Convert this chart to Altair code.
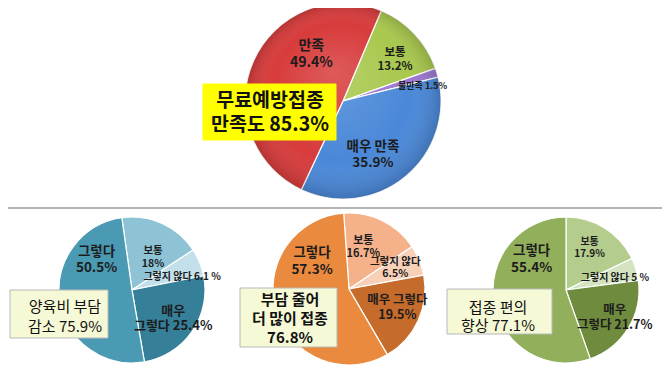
import math
import altair as alt
import pandas as pd

# ---------------- data ----------------
top_cats = ["보통", "불만족", "매우 만족", "만족"]
top_vals = [13.2, 1.5, 35.9, 49.4]
top_labels = ["보통\n13.2%", "불만족 1.5%", "매우 만족\n35.9%", "만족\n49.4%"]

bottom_cats = ["보통", "그렇지 않다", "매우 그렇다", "그렇다"]

left_vals = [18, 6.1, 25.4, 50.5]
left_labels = ["보통\n18%", "그렇지 않다 6.1 %", "매우\n그렇다 25.4%", "그렇다\n50.5%"]

mid_vals = [16.7, 6.5, 19.5, 57.3]
mid_labels = ["보통\n16.7%", "그렇지 않다\n6.5%", "매우 그렇다\n19.5%", "그렇다\n57.3%"]

right_vals = [17.9, 5, 21.7, 55.4]
right_labels = ["보통\n17.9%", "그렇지 않다 5 %", "매우\n그렇다 21.7%", "그렇다\n55.4%"]

box_texts = [
    "무료예방접종\n만족도 85.3%",
    "양육비 부담\n감소 75.9%",
    "부담 줄어\n더 많이 접종\n76.8%",
    "접종 편의\n향상 77.1%",
]

# ---------------- styles ----------------
FONT = "Noto Sans CJK KR"
W, H = 654, 357

pies = [
    dict(cats=top_cats, vals=top_vals, labels=top_labels,
         colors=["#a8c84d", "#9b77d0", "#4a88d8", "#d83b3b"],
         cx=335, cy=93, r=98, start=23, shade=True,
         lstyle=[(66, 4, 4, 11.5), (81, 2, 8, 9), (66, -12, 3, 13.5), (50, 14, -26, 14)]),
    dict(cats=bottom_cats, vals=left_vals, labels=left_labels,
         colors=["#8ec3d6", "#c3dfe9", "#367f99", "#4a9ab3"],
         cx=124, cy=282, r=73, start=-8, shade=False,
         lstyle=[(39, 5, 3, 10.5), (52, 2, 7, 10), (50, 0, 0, 13), (46, 10, -37, 13.5)]),
    dict(cats=bottom_cats, vals=mid_vals, labels=mid_labels,
         colors=["#f5b28a", "#f8d0b8", "#c56b2c", "#ea8a3e"],
         cx=341, cy=281, r=76, start=-4, shade=False,
         lstyle=[(44, -5, -2, 11), (50, 0, -2, 10.5), (51, 2, -3, 12.5), (46, 7, -41, 13.5)]),
    dict(cats=bottom_cats, vals=right_vals, labels=right_labels,
         colors=["#b4cc8c", "#d5e4c0", "#6f8b3d", "#92b05b"],
         cx=558, cy=282, r=73, start=0, shade=False,
         lstyle=[(48, -2, -1, 10), (50, 1, 2, 10), (56, 1, -2, 12.5), (45, 10, -38, 13.5)]),
]

boxes = [
    dict(x1=195, x2=328, y1=76, y2=132, fill="#ffff00", stroke="#ffff00",
         tx=262, ty=105, size=19.5, weight="bold", lh=23.5),
    dict(x1=2, x2=100, y1=282, y2=330, fill="#f6f9d6", stroke="#b8b8b8",
         tx=57, ty=309, size=15, weight="normal", lh=20),
    dict(x1=232, x2=329, y1=280, y2=339, fill="#f6f9d6", stroke="#b8b8b8",
         tx=282, ty=311, size=15, weight="bold", lh=19),
    dict(x1=439, x2=544, y1=281, y2=326, fill="#f6f9d6", stroke="#b8b8b8",
         tx=490, ty=309, size=15, weight="normal", lh=18),
]

shade_gradient = alt.RadialGradient(
    gradient="radial", x1=0.45, y1=0.35, r1=0, x2=0.5, y2=0.5, r2=0.5,
    stops=[alt.GradientStop(offset=0, color="rgba(255,255,255,0.16)"),
           alt.GradientStop(offset=0.7, color="rgba(255,255,255,0.0)"),
           alt.GradientStop(offset=1, color="rgba(0,0,0,0.16)")],
)

layers = []

# separator line
layers.append(
    alt.Chart(alt.Data(values=[{}])).mark_rule(color="#b4b4b4", strokeWidth=2).encode(
        x=alt.value(0), x2=alt.value(W), y=alt.value(200)
    )
)

for p in pies:
    df = pd.DataFrame({
        "cat": p["cats"], "value": p["vals"], "label": p["labels"],
        "order": list(range(len(p["cats"]))),
    })
    base = (
        alt.Chart(df)
        .transform_window(cum="sum(value)", sort=[alt.SortField("order")], frame=[None, 0])
        .transform_calculate(start="datum.cum - datum.value", mid="datum.cum - datum.value / 2")
    )
    a0 = math.radians(p["start"])
    sc = alt.Scale(domain=[0, 100], range=[a0, a0 + 2 * math.pi])
    arcs = base.mark_arc(outerRadius=p["r"], stroke="white", strokeWidth=1.2).encode(
        x=alt.value(p["cx"]), y=alt.value(p["cy"]),
        theta=alt.Theta("start:Q", scale=sc),
        theta2="cum:Q",
        color=alt.Color("cat:N", scale=alt.Scale(domain=p["cats"], range=p["colors"]), legend=None),
    )
    layers.append(arcs)
    if p["shade"]:
        layers.append(
            alt.Chart(alt.Data(values=[{}])).mark_arc(
                outerRadius=p["r"], theta=0, theta2=2 * math.pi, fill=shade_gradient, strokeWidth=0
            ).encode(x=alt.value(p["cx"]), y=alt.value(p["cy"]))
        )
    for i, (rad, dx, dy, fs) in enumerate(p["lstyle"]):
        lh = fs * 1.2
        nlines = p["labels"][i].count("\n") + 1
        t = base.transform_filter(f"datum.order == {i}").mark_text(
            radius=rad, dx=dx, dy=dy - (nlines - 1) * lh / 2, fontSize=fs, fontWeight="bold",
            font=FONT, color="#1c1c1c", align="center", baseline="middle", lineBreak="\n",
            lineHeight=lh,
        ).encode(
            x=alt.value(p["cx"]), y=alt.value(p["cy"]),
            theta=alt.Theta("mid:Q", scale=sc, stack=False),
            text="label:N",
        )
        layers.append(t)

for b, txt in zip(boxes, box_texts):
    nlines = txt.count("\n") + 1
    layers.append(
        alt.Chart(alt.Data(values=[{}])).mark_rect(fill=b["fill"], stroke=b["stroke"], strokeWidth=1).encode(
            x=alt.value(b["x1"]), x2=alt.value(b["x2"]), y=alt.value(b["y1"]), y2=alt.value(b["y2"])
        )
    )
    layers.append(
        alt.Chart(alt.Data(values=[{}])).mark_text(
            font=FONT, fontSize=b["size"], fontWeight=b["weight"], color="#111111",
            align="center", baseline="middle", lineBreak="\n", lineHeight=b["lh"],
        ).encode(x=alt.value(b["tx"]), y=alt.value(b["ty"] - (nlines - 1) * b["lh"] / 2),
                 text=alt.value(txt))
    )

chart = (
    alt.layer(*layers)
    .resolve_scale(theta="independent", color="independent")
    .properties(width=W, height=H, autosize=alt.AutoSizeParams(type="none"), padding=0,
                background="white")
    .configure_view(stroke=None)
)

chart.save("out.html", embed_options={"renderer": "svg", "actions": False})
